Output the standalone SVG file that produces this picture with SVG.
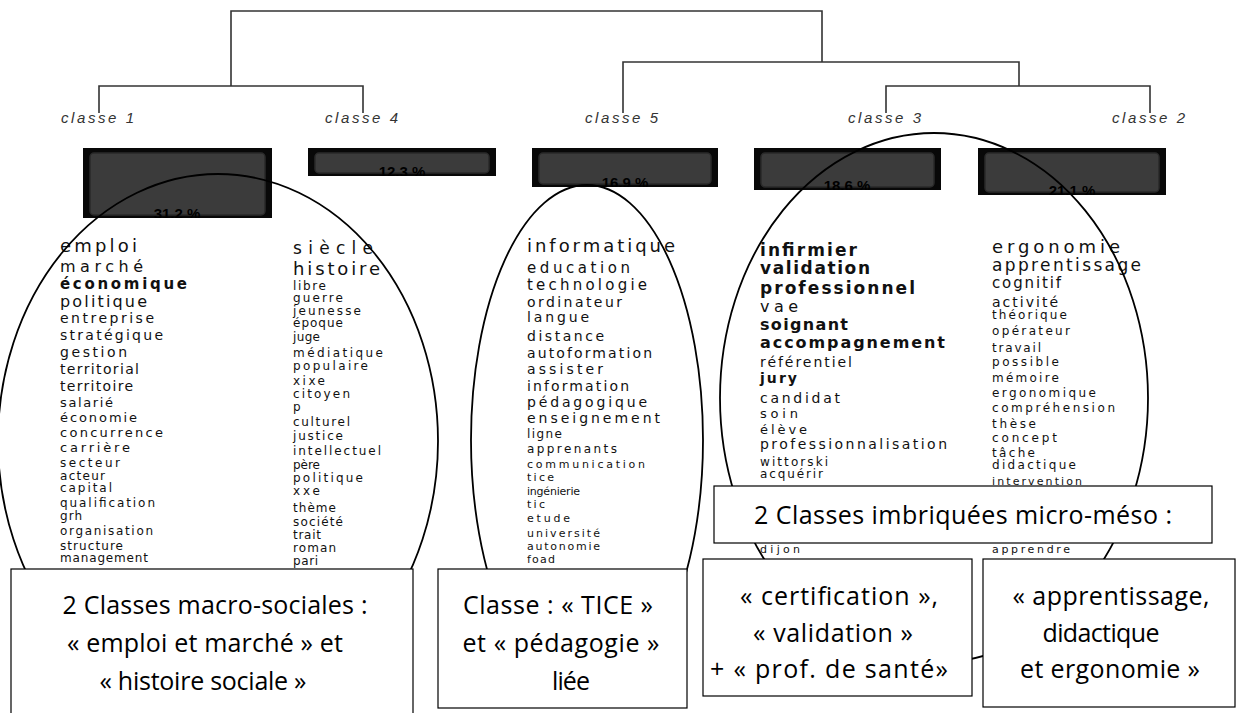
<svg xmlns="http://www.w3.org/2000/svg" width="1236" height="713" viewBox="0 0 1236 713">
<style>
.bg{fill:#fff}
.den{fill:none;stroke:#333;stroke-width:1.6}
.lab{font-family:"Liberation Sans",Arial,sans-serif;font-style:italic;font-size:15px;fill:#333}
.pout{fill:#080808}
.pin{fill:#3b3b3b;stroke:#2a2a2a;stroke-width:1.5}
.pct{font-family:"Liberation Sans",Arial,sans-serif;font-weight:bold;font-size:15px;fill:#000;text-anchor:middle}
.w{font-family:"DejaVu Sans",Verdana,sans-serif;fill:#111}
.b{font-weight:bold}
.ell{fill:none;stroke:#000;stroke-width:1.8}
.box{fill:#fff;stroke:#000;stroke-width:1.2}
.bt{font-family:"Open Sans","Noto Sans",sans-serif;font-size:25px;fill:#000;text-anchor:middle}
</style>
<defs>
<clipPath id="c1"><rect x="83" y="148" width="189" height="70"/></clipPath>
<clipPath id="c4"><rect x="308" y="148" width="188" height="28"/></clipPath>
<clipPath id="c5"><rect x="532" y="148" width="186" height="39"/></clipPath>
<clipPath id="c3"><rect x="754" y="148" width="187" height="42"/></clipPath>
<clipPath id="c2"><rect x="978" y="148" width="188" height="47"/></clipPath>
</defs>
<rect class="bg" x="0" y="0" width="1236" height="713"/>

<g id="connectors">
<path class="den" d="M99,113 V86 H363 V113 M231,86 V11 H822 V62 M623,113 V62 H1019 V86 M886,113 V86 H1150 V113"/>
</g>

<g id="classe1">
<text class="lab" x="61" y="123" textLength="73" lengthAdjust="spacing">classe 1</text>
<rect class="pout" x="83" y="148" width="189" height="70"/>
<rect class="pin" x="90" y="153" width="175" height="62" rx="4"/>
<text class="pct" x="177" y="219" clip-path="url(#c1)">31.2 %</text>
<g class="w">
<text x="60" y="252" font-size="18" textLength="77" lengthAdjust="spacing">emploi</text>
<text x="60" y="272" font-size="16" textLength="83" lengthAdjust="spacing">marché</text>
<text x="60" y="289" font-size="15" class="b" textLength="127" lengthAdjust="spacing">économique</text>
<text x="60" y="307" font-size="16" textLength="87" lengthAdjust="spacing">politique</text>
<text x="60" y="323" font-size="14" textLength="94" lengthAdjust="spacing">entreprise</text>
<text x="60" y="340" font-size="14" textLength="103" lengthAdjust="spacing">stratégique</text>
<text x="60" y="357" font-size="14" textLength="67" lengthAdjust="spacing">gestion</text>
<text x="60" y="374" font-size="14" textLength="79" lengthAdjust="spacing">territorial</text>
<text x="60" y="391" font-size="14" textLength="73" lengthAdjust="spacing">territoire</text>
<text x="60" y="407" font-size="13" textLength="53" lengthAdjust="spacing">salarié</text>
<text x="60" y="422" font-size="13" textLength="77" lengthAdjust="spacing">économie</text>
<text x="60" y="437" font-size="13" textLength="103" lengthAdjust="spacing">concurrence</text>
<text x="60" y="452" font-size="13" textLength="70" lengthAdjust="spacing">carrière</text>
<text x="60" y="467" font-size="12" textLength="60" lengthAdjust="spacing">secteur</text>
<text x="60" y="480" font-size="12" textLength="45" lengthAdjust="spacing">acteur</text>
<text x="60" y="492" font-size="12" textLength="52" lengthAdjust="spacing">capital</text>
<text x="60" y="507" font-size="12" textLength="95" lengthAdjust="spacing">qualification</text>
<text x="60" y="520" font-size="12" textLength="22" lengthAdjust="spacing">grh</text>
<text x="60" y="535" font-size="12" textLength="93" lengthAdjust="spacing">organisation</text>
<text x="60" y="550" font-size="12" textLength="63" lengthAdjust="spacing">structure</text>
<text x="60" y="562" font-size="12" textLength="88" lengthAdjust="spacing">management</text>
</g>
</g>

<g id="classe4">
<text class="lab" x="325" y="123" textLength="73" lengthAdjust="spacing">classe 4</text>
<rect class="pout" x="308" y="148" width="188" height="28"/>
<rect class="pin" x="315" y="153" width="174" height="20" rx="4"/>
<text class="pct" x="402" y="177" clip-path="url(#c4)">12.3 %</text>
<g class="w">
<text x="293" y="254" font-size="17" textLength="80" lengthAdjust="spacing">siècle</text>
<text x="293" y="275" font-size="18" textLength="87" lengthAdjust="spacing">histoire</text>
<text x="293" y="290" font-size="12" textLength="33" lengthAdjust="spacing">libre</text>
<text x="293" y="302" font-size="12" textLength="50" lengthAdjust="spacing">guerre</text>
<text x="293" y="315" font-size="12" textLength="68" lengthAdjust="spacing">jeunesse</text>
<text x="293" y="327" font-size="12" textLength="50" lengthAdjust="spacing">époque</text>
<text x="293" y="341" font-size="12" textLength="27" lengthAdjust="spacing">juge</text>
<text x="293" y="357" font-size="12" textLength="90" lengthAdjust="spacing">médiatique</text>
<text x="293" y="370" font-size="12" textLength="75" lengthAdjust="spacing">populaire</text>
<text x="293" y="385" font-size="12" textLength="32" lengthAdjust="spacing">xixe</text>
<text x="293" y="398" font-size="12" textLength="57" lengthAdjust="spacing">citoyen</text>
<text x="293" y="411" font-size="12">p</text>
<text x="293" y="426" font-size="12" textLength="57" lengthAdjust="spacing">culturel</text>
<text x="293" y="440" font-size="12" textLength="50" lengthAdjust="spacing">justice</text>
<text x="293" y="455" font-size="12" textLength="88" lengthAdjust="spacing">intellectuel</text>
<text x="293" y="469" font-size="12" textLength="27" lengthAdjust="spacing">père</text>
<text x="293" y="482" font-size="12" textLength="70" lengthAdjust="spacing">politique</text>
<text x="293" y="495" font-size="12" textLength="27" lengthAdjust="spacing">xxe</text>
<text x="293" y="512" font-size="12" textLength="43" lengthAdjust="spacing">thème</text>
<text x="293" y="526" font-size="12" textLength="50" lengthAdjust="spacing">société</text>
<text x="293" y="539" font-size="12" textLength="28" lengthAdjust="spacing">trait</text>
<text x="293" y="552" font-size="12" textLength="43" lengthAdjust="spacing">roman</text>
<text x="293" y="565" font-size="12" textLength="25" lengthAdjust="spacing">pari</text>
</g>
</g>

<g id="classe5">
<text class="lab" x="585" y="123" textLength="73" lengthAdjust="spacing">classe 5</text>
<rect class="pout" x="532" y="148" width="186" height="39"/>
<rect class="pin" x="539" y="153" width="172" height="31" rx="4"/>
<text class="pct" x="625" y="188" clip-path="url(#c5)">16.9 %</text>
<g class="w">
<text x="527" y="252" font-size="18" textLength="148" lengthAdjust="spacing">informatique</text>
<text x="527" y="273" font-size="15" textLength="103" lengthAdjust="spacing">education</text>
<text x="527" y="290" font-size="15" textLength="120" lengthAdjust="spacing">technologie</text>
<text x="527" y="307" font-size="14" textLength="95" lengthAdjust="spacing">ordinateur</text>
<text x="527" y="322" font-size="14" textLength="62" lengthAdjust="spacing">langue</text>
<text x="527" y="341" font-size="14" textLength="77" lengthAdjust="spacing">distance</text>
<text x="527" y="358" font-size="14" textLength="125" lengthAdjust="spacing">autoformation</text>
<text x="527" y="374" font-size="14" textLength="76" lengthAdjust="spacing">assister</text>
<text x="527" y="391" font-size="14" textLength="102" lengthAdjust="spacing">information</text>
<text x="527" y="407" font-size="14" textLength="120" lengthAdjust="spacing">pédagogique</text>
<text x="527" y="423" font-size="14" textLength="133" lengthAdjust="spacing">enseignement</text>
<text x="527" y="438" font-size="12" textLength="35" lengthAdjust="spacing">ligne</text>
<text x="527" y="453" font-size="12" textLength="90" lengthAdjust="spacing">apprenants</text>
<text x="527" y="468" font-size="11" textLength="118" lengthAdjust="spacing">communication</text>
<text x="527" y="481" font-size="11" textLength="27" lengthAdjust="spacing">tice</text>
<text x="527" y="495" font-size="11" textLength="53" lengthAdjust="spacing">ingénierie</text>
<text x="527" y="508" font-size="11" textLength="18" lengthAdjust="spacing">tic</text>
<text x="527" y="522" font-size="11" textLength="43" lengthAdjust="spacing">etude</text>
<text x="527" y="537" font-size="11" textLength="73" lengthAdjust="spacing">université</text>
<text x="527" y="550" font-size="11" textLength="73" lengthAdjust="spacing">autonomie</text>
<text x="527" y="563" font-size="11" textLength="28" lengthAdjust="spacing">foad</text>
</g>
</g>

<g id="classe3">
<text class="lab" x="848" y="123" textLength="73" lengthAdjust="spacing">classe 3</text>
<rect class="pout" x="754" y="148" width="187" height="42"/>
<rect class="pin" x="761" y="153" width="173" height="34" rx="4"/>
<text class="pct" x="847" y="191" clip-path="url(#c3)">18.6 %</text>
<g class="w">
<text x="760" y="256" font-size="17" class="b" textLength="97" lengthAdjust="spacing">infirmier</text>
<text x="760" y="274" font-size="17" class="b" textLength="110" lengthAdjust="spacing">validation</text>
<text x="760" y="294" font-size="17" class="b" textLength="155" lengthAdjust="spacing">professionnel</text>
<text x="760" y="312" font-size="16" textLength="38" lengthAdjust="spacing">vae</text>
<text x="760" y="330" font-size="16" class="b" textLength="88" lengthAdjust="spacing">soignant</text>
<text x="760" y="348" font-size="16" class="b" textLength="185" lengthAdjust="spacing">accompagnement</text>
<text x="760" y="367" font-size="14" textLength="92" lengthAdjust="spacing">référentiel</text>
<text x="760" y="383" font-size="14" class="b" textLength="37" lengthAdjust="spacing">jury</text>
<text x="760" y="403" font-size="14" textLength="80" lengthAdjust="spacing">candidat</text>
<text x="760" y="418" font-size="13" textLength="38" lengthAdjust="spacing">soin</text>
<text x="760" y="434" font-size="13" textLength="47" lengthAdjust="spacing">élève</text>
<text x="760" y="449" font-size="14" textLength="187" lengthAdjust="spacing">professionnalisation</text>
<text x="760" y="466" font-size="12" textLength="68" lengthAdjust="spacing">wittorski</text>
<text x="760" y="478" font-size="12" textLength="63" lengthAdjust="spacing">acquérir</text>
<text x="760" y="553" font-size="11" textLength="40" lengthAdjust="spacing">dijon</text>
</g>
</g>

<g id="classe2">
<text class="lab" x="1112" y="123" textLength="73" lengthAdjust="spacing">classe 2</text>
<rect class="pout" x="978" y="148" width="188" height="47"/>
<rect class="pin" x="985" y="153" width="174" height="39" rx="4"/>
<text class="pct" x="1072" y="196" clip-path="url(#c2)">21.1 %</text>
<g class="w">
<text x="992" y="253" font-size="18" textLength="128" lengthAdjust="spacing">ergonomie</text>
<text x="992" y="271" font-size="17" textLength="149" lengthAdjust="spacing">apprentissage</text>
<text x="992" y="288" font-size="15" textLength="69" lengthAdjust="spacing">cognitif</text>
<text x="992" y="307" font-size="14" textLength="66" lengthAdjust="spacing">activité</text>
<text x="992" y="319" font-size="12" textLength="75" lengthAdjust="spacing">théorique</text>
<text x="992" y="335" font-size="12" textLength="78" lengthAdjust="spacing">opérateur</text>
<text x="992" y="352" font-size="12" textLength="49" lengthAdjust="spacing">travail</text>
<text x="992" y="366" font-size="12" textLength="67" lengthAdjust="spacing">possible</text>
<text x="992" y="382" font-size="12" textLength="67" lengthAdjust="spacing">mémoire</text>
<text x="992" y="397" font-size="12" textLength="104" lengthAdjust="spacing">ergonomique</text>
<text x="992" y="412" font-size="12" textLength="123" lengthAdjust="spacing">compréhension</text>
<text x="992" y="428" font-size="12" textLength="44" lengthAdjust="spacing">thèse</text>
<text x="992" y="442" font-size="12" textLength="65" lengthAdjust="spacing">concept</text>
<text x="992" y="457" font-size="12" textLength="43" lengthAdjust="spacing">tâche</text>
<text x="992" y="469" font-size="12" textLength="84" lengthAdjust="spacing">didactique</text>
<text x="992" y="485" font-size="11" textLength="90" lengthAdjust="spacing">intervention</text>
<text x="992" y="553" font-size="11" textLength="78" lengthAdjust="spacing">apprendre</text>
</g>
</g>

<g id="groupe-macro"><ellipse class="ell" cx="218" cy="441" rx="220" ry="267"/></g>
<g id="groupe-tice"><ellipse class="ell" cx="587" cy="440" rx="116" ry="255"/></g>
<g id="groupe-micro"><ellipse class="ell" cx="934" cy="398" rx="214" ry="265"/></g>

<g id="note-macro">
<rect class="box" x="11" y="569" width="402" height="152"/>
<text class="bt" x="215" y="614" textLength="305" lengthAdjust="spacing">2 Classes macro-sociales :</text>
<text class="bt" x="205" y="652" textLength="276" lengthAdjust="spacing">« emploi et marché » et</text>
<text class="bt" x="203" y="690" textLength="207" lengthAdjust="spacing">« histoire sociale »</text>
</g>
<g id="note-tice">
<rect class="box" x="438" y="569" width="249" height="139"/>
<text class="bt" x="558" y="614" textLength="190" lengthAdjust="spacing">Classe : « TICE »</text>
<text class="bt" x="561" y="652" textLength="197" lengthAdjust="spacing">et « pédagogie »</text>
<text class="bt" x="571" y="690" textLength="38" lengthAdjust="spacing">liée</text>
</g>
<g id="note-micro">
<rect class="box" x="714" y="486" width="498" height="57"/>
<text class="bt" x="963" y="524" textLength="418" lengthAdjust="spacing">2 Classes imbriquées micro-méso :</text>
</g>
<g id="note-certif">
<rect class="box" x="703" y="559" width="269" height="137"/>
<text class="bt" x="839" y="605" textLength="198" lengthAdjust="spacing">« certification »,</text>
<text class="bt" x="833" y="642" textLength="160" lengthAdjust="spacing">« validation »</text>
<text class="bt" x="829" y="678" textLength="238" lengthAdjust="spacing">+ « prof. de santé»</text>
</g>
<g id="note-apprent">
<rect class="box" x="983" y="559" width="252" height="148"/>
<text class="bt" x="1111" y="605" textLength="197" lengthAdjust="spacing">« apprentissage,</text>
<text class="bt" x="1101" y="642" textLength="117" lengthAdjust="spacing">didactique</text>
<text class="bt" x="1110" y="678" textLength="180" lengthAdjust="spacing">et ergonomie »</text>
</g>
</svg>
